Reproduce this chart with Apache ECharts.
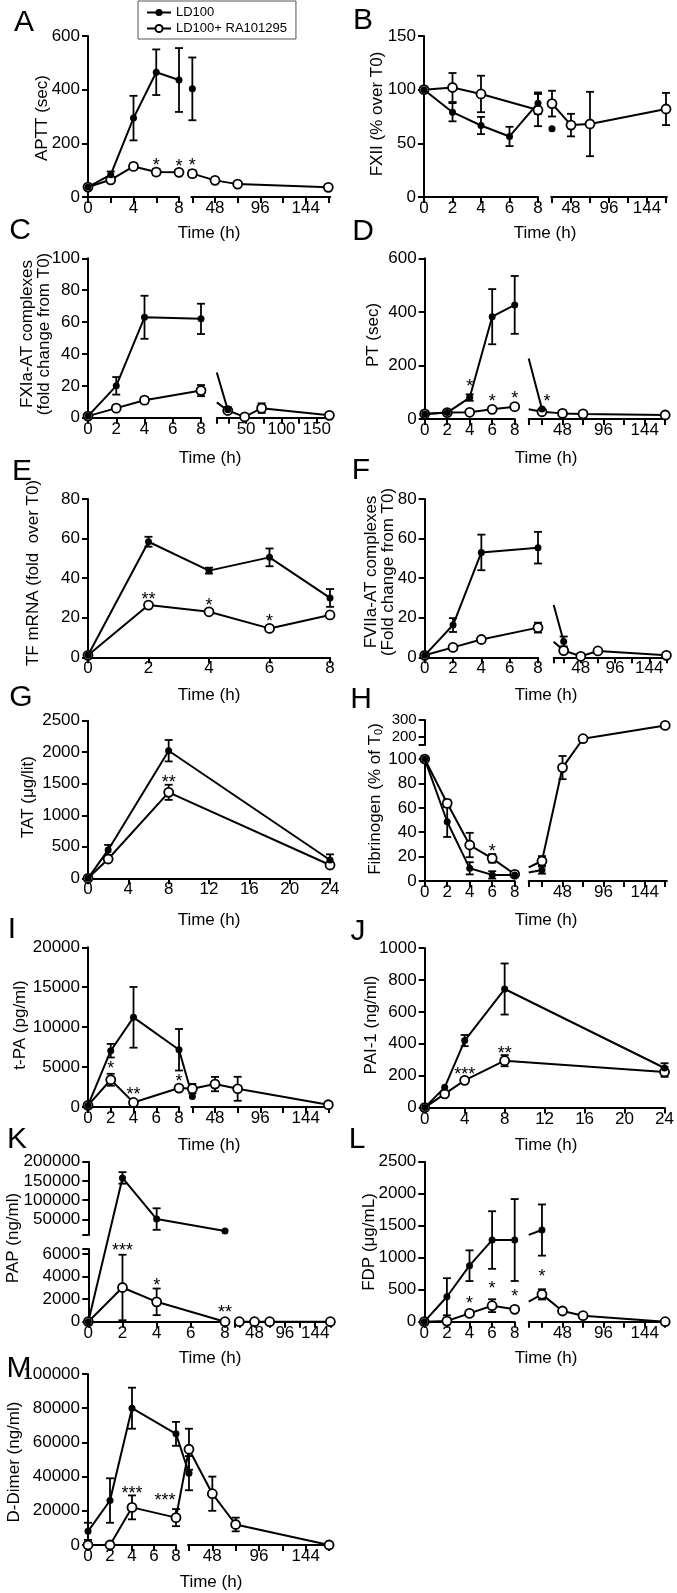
<!DOCTYPE html>
<html>
<head>
<meta charset="utf-8">
<script src="https://cdn.jsdelivr.net/npm/echarts@6/dist/echarts.min.js"></script>
<style>
  html, body { margin: 0; padding: 0; background: #fff; }
  #main { width: 677px; height: 1593px; }
</style>
</head>
<body>
<div id="main"></div>
<script>
// series names
const LD = 'LD100';
const RA = 'LD100+ RA101295';

// shared tick values
const ticks8 = [0, 2, 4, 6, 8];
const ticks24 = [0, 4, 8, 12, 16, 20, 24];
const lateTicks = [24, 48, 72, 96, 120, 144, 168];
const lateLabels = [48, 96, 144];

// A  APTT
const A_time = [0, 2, 4, 6, 8, 24, 48, 72, 168];
const A_ld = [37, 83, 294, 465, 436, 403, null, null, null];
const A_ldErr = [8, 12, 83, 85, 119, 117, 0, 0, 0];
const A_ra = [37, 64, 114, 93, 92, 87, 62, 48, 36];
const A_raErr = [0, 0, 10, 12, 0, 12, 0, 0, 0];
const A_stars = [[6, 132, '*'], [8, 126, '*'], [24, 130, '*']];
const A_yTicks = [0, 200, 400, 600];

// B  FXII
const B_time = [0, 2, 4, 6, 8, 24, 48, 72, 168];
const B_ld = [100, 79, 66.6, 56.4, 87.4, 63.5, null, null, null];
const B_ldErr = [0, 8.5, 8, 9, 10, 0, 0, 0, 0];
const B_ra = [100, 102, 96, null, 81, 87, 67, 68, 82];
const B_raErr = [0, 13.5, 17, 0, 15, 12, 10.5, 30, 15];
const B_yTicks = [0, 50, 100, 150];

// C  FXIa-AT
const C_time = [0, 2, 4, 8, 24, 48, 72, 168];
const C_ld = [1, 20, 63, 62, 5, null, null, null];
const C_ldErr = [0, 5.5, 13.5, 9.5, 1.5, 0, 0, 0];
const C_ra = [1, 6, 11, 17, 4.5, 0.5, 6, 1.5];
const C_raErr = [0, 1, 2, 3.5, 0, 0, 3, 0];
const C_yTicks = [0, 20, 40, 60, 80, 100];
const C_lateTicks = [8.5, 25, 50, 75, 100, 125, 150];
const C_lateLabels = [50, 100, 150];

// D  PT
const D_time = [0, 2, 4, 6, 8, 24, 48, 72, 168];
const D_ld = [19, 24, 80, 382, 426, 37, null, null, null];
const D_ldErr = [0, 0, 12, 103, 108, 0, 0, 0, 0];
const D_ra = [19, 24, 25, 36, 46, 27, 21, 19, 15];
const D_raErr = [0, 0, 0, 0, 0, 0, 0, 0, 0];
const D_stars = [[4, 133, '*'], [6, 77, '*'], [8, 90, '*'], [29.8, 77, '*']];
const D_yTicks = [0, 200, 400, 600];

// E  TF mRNA
const E_time = [0, 2, 4, 6, 8];
const E_ld = [1, 58.4, 43.8, 50.5, 30];
const E_ldErr = [0, 2.5, 1.5, 4.5, 4.5];
const E_ra = [1, 26.4, 23, 14.6, 21.4];
const E_raErr = [0, 0, 0, 0, 0];
const E_stars = [[2, 31, '**'], [4, 28, '*'], [6, 19.7, '*']];
const E_yTicks = [0, 20, 40, 60, 80];

// F  FVIIa-AT
const F_time = [0, 2, 4, 8, 24, 48, 72, 168];
const F_ld = [1, 16.3, 53, 55.4, 8, null, null, null];
const F_ldErr = [0, 3.5, 9, 8, 2.5, 0, 0, 0];
const F_ra = [1, 5, 9, 15, 3.4, 0.5, 3.2, 1];
const F_raErr = [0, 0, 0, 2.5, 0, 0, 1, 0];
const F_yTicks = [0, 20, 40, 60, 80];

// G  TAT
const G_time = [0, 2, 8, 24];
const G_ld = [0, 450, 2024, 290];
const G_ldErr = [0, 80, 170, 90];
const G_ra = [0, 306, 1364, 211];
const G_raErr = [0, 0, 120, 0];
const G_stars = [[8, 1575, '**']];
const G_yTicks = [0, 500, 1000, 1500, 2000, 2500];

// H  Fibrinogen
const H_time = [0, 2, 4, 6, 8, 24, 48, 72, 168];
const H_ld = [100, 48.6, 10.4, 5, 5, 9, null, null, null];
const H_ldErr = [0, 12.5, 5, 3, 0, 3, 0, 0, 0];
const H_ra = [100, 63.7, 29.5, 18.6, 5.5, 16.4, 93, 190, 268];
const H_raErr = [0, 3, 10, 3.5, 0, 4, 9.5, 15, 0];
const H_stars = [[6, 26.8, '*']];
const H_yTicksLow = [0, 20, 40, 60, 80, 100];
const H_yTicksHigh = [153, 200, 300];
const H_yLabelsHigh = [200, 300];

// I  t-PA
const I_time = [0, 2, 4, 8, 24, 48, 72, 168];
const I_ld = [200, 7050, 11230, 7170, 1320, null, null, null];
const I_ldErr = [0, 850, 3800, 2600, 0, 0, 0, 0];
const I_ra = [200, 3410, 570, 2370, 2290, 2870, 2280, 280];
const I_raErr = [0, 750, 0, 250, 600, 900, 1500, 0];
const I_stars = [[2, 5300, '*'], [4, 1950, '**'], [8, 3620, '*']];
const I_yTicks = [0, 5000, 10000, 15000, 20000];

// J  PAI-1
const J_time = [0, 2, 4, 8, 24];
const J_ld = [0, 127, 420, 743, 248];
const J_ldErr = [0, 0, 35, 160, 30];
const J_ra = [0, 86, 171, 294, 223];
const J_raErr = [0, 0, 10, 35, 30];
const J_stars = [[4, 232, '***'], [8, 359, '**']];
const J_yTicks = [0, 200, 400, 600, 800, 1000];

// K  PAP
const K_time = [0, 2, 4, 8, 24, 48, 72, 168];
const K_ld = [0, 157800, 50800, 19700, null, null, null, null];
const K_ldErr = [0, 15000, 28000, 0, 0, 0, 0, 0];
const K_ra = [0, 3030, 1760, 0, 0, 0, 0, 0];
const K_raErr = [0, 2900, 1180, 0, 0, 0, 0, 0];
const K_stars = [[2, 6620, '***'], [4, 3530, '*'], [8, 1090, '**']];
const K_yTicksLow = [0, 2000, 4000, 6000, 6440];
const K_yLabelsLow = [0, 2000, 4000, 6000];
const K_yTicksHigh = [9300, 50000, 100000, 150000, 200000];
const K_yLabelsHigh = [50000, 100000, 150000, 200000];
const K_lateTicks = [17.2, 24, 48, 72, 96, 120, 144, 168];

// L  FDP
const L_time = [0, 2, 4, 6, 8, 24, 48, 72, 168];
const L_ld = [0, 390, 875, 1276, 1276, 1432, null, null, null];
const L_ldErr = [0, 290, 240, 450, 640, 400, 0, 0, 0];
const L_ra = [0, 10, 130, 250, 193, 427, 167, 94, 0];
const L_raErr = [0, 0, 30, 100, 0, 80, 0, 0, 0];
const L_stars = [[4, 339, '*'], [6, 573, '*'], [8, 453, '*'], [24, 755, '*']];
const L_yTicks = [0, 500, 1000, 1500, 2000, 2500];

// M  D-Dimer
const M_time = [0, 2, 4, 8, 24, 48, 72, 168];
const M_ld = [8000, 26000, 80000, 65000, 42000, null, null, null];
const M_ldErr = [5000, 13000, 12000, 7000, 10000, 0, 0, 0];
const M_ra = [0, 0, 22000, 16000, 56000, 30000, 12000, 0];
const M_raErr = [0, 0, 7000, 5000, 12000, 10000, 4000, 0];
const M_stars = [[4, 32000, '***'], [7, 28000, '***']];
const M_yTicks = [0, 20000, 40000, 60000, 80000, 100000];

// ---- layout ----
const FONT = '"Liberation Sans", Arial, sans-serif';
const lateD = [8.5, 24, 48, 72, 96, 120, 144, 168];

function seg(min, max, p0, p1, ticks, labels, fontSize) {
  return { min: min, max: max, p0: p0, p1: p1, ticks: ticks, labels: labels || ticks, fs: fontSize || 17 };
}

const panels = [
  { letter: 'A', letterPos: [24, 23], yName: 'APTT (sec)', yNamePos: [42, 118], timePos: [209, 233],
    xSegs: [seg(0, 8, 88, 179, ticks8, [0, 4, 8]), seg(23, 170, 191.4, 330.2, lateTicks, lateLabels)],
    ySegs: [seg(0, 600, 197, 36, A_yTicks)], bridge: 'none',
    time: A_time, ld: A_ld, ldErr: A_ldErr, ra: A_ra, raErr: A_raErr, stars: A_stars },
  { letter: 'B', letterPos: [363, 21], yName: 'FXII (% over T0)', yNamePos: [377, 114], timePos: [545, 233],
    xSegs: [seg(0, 8, 424, 538, ticks8), seg(23, 169, 551.2, 666.8, lateTicks, lateLabels)],
    ySegs: [seg(0, 150, 197, 36, B_yTicks)], bridge: 'none',
    time: B_time, ld: B_ld, ldErr: B_ldErr, ra: B_ra, raErr: B_raErr, stars: [] },
  { letter: 'C', letterPos: [20, 231], yName: 'FXIa-AT complexes\n(fold change from T0)', yNamePos: [36, 334], timePos: [210, 458],
    xSegs: [seg(0, 8, 88, 201, ticks8), seg(8.5, 171, 216.8, 331.5, C_lateTicks, C_lateLabels)],
    ySegs: [seg(0, 100, 417.7, 258.3, C_yTicks)], bridge: 'right',
    time: C_time, ld: C_ld, ldErr: C_ldErr, ra: C_ra, raErr: C_raErr, stars: [] },
  { letter: 'D', letterPos: [363, 232], yName: 'PT (sec)', yNamePos: [373, 335], timePos: [546, 458],
    xSegs: [seg(0, 8, 424.7, 514.7, ticks8), seg(8.5, 170, 528.7, 666.9, lateD, lateLabels)],
    ySegs: [seg(0, 600, 419, 258.3, D_yTicks)], bridge: 'right',
    time: D_time, ld: D_ld, ldErr: D_ldErr, ra: D_ra, raErr: D_raErr, stars: D_stars },
  { letter: 'E', letterPos: [22, 472], yName: 'TF mRNA (fold  over T0)', yNamePos: [33, 573], timePos: [209, 695],
    xSegs: [seg(0, 8, 88, 330, ticks8)],
    ySegs: [seg(0, 80, 657.3, 499, E_yTicks)], bridge: 'none',
    time: E_time, ld: E_ld, ldErr: E_ldErr, ra: E_ra, raErr: E_raErr, stars: E_stars },
  { letter: 'F', letterPos: [361, 471], yName: 'FVIIa-AT complexes\n(Fold change from T0)', yNamePos: [380, 572], timePos: [546, 695],
    xSegs: [seg(0, 8, 424.7, 538, ticks8), seg(10, 170, 553.7, 667.8, [10].concat(lateTicks), lateLabels)],
    ySegs: [seg(0, 80, 657.3, 499, F_yTicks)], bridge: 'right',
    time: F_time, ld: F_ld, ldErr: F_ldErr, ra: F_ra, raErr: F_raErr, stars: [] },
  { letter: 'G', letterPos: [21, 698], yName: 'TAT (\u03bcg/lit)', yNamePos: [28, 797], timePos: [209, 920],
    xSegs: [seg(0, 24, 88, 330, ticks24)],
    ySegs: [seg(0, 2500, 878.3, 720.7, G_yTicks)], bridge: 'none',
    time: G_time, ld: G_ld, ldErr: G_ldErr, ra: G_ra, raErr: G_raErr, stars: G_stars },
  { letter: 'H', letterPos: [361, 700], yName: 'Fibrinogen (% of T{sub|0})', yNamePos: [375, 799], timePos: [546, 920],
    xSegs: [seg(0, 8, 424.7, 514.7, ticks8), seg(8.5, 170, 528.7, 666.9, lateD, lateLabels)],
    ySegs: [seg(0, 102, 881, 756.6, H_yTicksLow), seg(153, 300, 745, 720, H_yTicksHigh, H_yLabelsHigh, 15)], bridge: 'right',
    time: H_time, ld: H_ld, ldErr: H_ldErr, ra: H_ra, raErr: H_raErr, stars: H_stars },
  { letter: 'I', letterPos: [12, 930], yName: 't-PA (pg/ml)', yNamePos: [20, 1025], timePos: [209, 1145],
    xSegs: [seg(0, 8, 88, 179, ticks8), seg(23, 170, 191.4, 330.2, lateTicks, lateLabels)],
    ySegs: [seg(0, 20000, 1107, 947.3, I_yTicks)], bridge: 'full',
    time: I_time, ld: I_ld, ldErr: I_ldErr, ra: I_ra, raErr: I_raErr, stars: I_stars },
  { letter: 'J', letterPos: [358, 932], yName: 'PAI-1 (ng/ml)', yNamePos: [371, 1025], timePos: [546, 1145],
    xSegs: [seg(0, 24, 424.7, 667, ticks24)],
    ySegs: [seg(0, 1000, 1107.6, 948, J_yTicks)], bridge: 'none',
    time: J_time, ld: J_ld, ldErr: J_ldErr, ra: J_ra, raErr: J_raErr, stars: J_stars },
  { letter: 'K', letterPos: [17, 1140], yName: 'PAP (ng/ml)', yNamePos: [13, 1238], timePos: [210, 1358],
    xSegs: [seg(0, 8, 88.3, 225, ticks8), seg(17.2, 169, 235, 331, K_lateTicks, lateLabels)],
    ySegs: [seg(0, 6440, 1321.7, 1249, K_yTicksLow, K_yLabelsLow), seg(9300, 200000, 1235, 1161.7, K_yTicksHigh, K_yLabelsHigh)], bridge: 'none',
    time: K_time, ld: K_ld, ldErr: K_ldErr, ra: K_ra, raErr: K_raErr, stars: K_stars },
  { letter: 'L', letterPos: [357, 1140], yName: 'FDP (\u03bcg/mL)', yNamePos: [369, 1242], timePos: [546, 1358],
    xSegs: [seg(0, 8, 424.3, 514.7, ticks8), seg(8.5, 170, 528.7, 666.9, lateD, lateLabels)],
    ySegs: [seg(0, 2500, 1321.7, 1161.7, L_yTicks)], bridge: 'right',
    time: L_time, ld: L_ld, ldErr: L_ldErr, ra: L_ra, raErr: L_raErr, stars: L_stars },
  { letter: 'M', letterPos: [19, 1369], yName: 'D-Dimer (ng/ml)', yNamePos: [14, 1462], timePos: [211, 1582],
    xSegs: [seg(0, 8, 88, 176, ticks8), seg(23, 170, 188, 331, lateTicks, lateLabels)],
    ySegs: [seg(0, 100000, 1545, 1374, M_yTicks)], bridge: 'full',
    time: M_time, ld: M_ld, ldErr: M_ldErr, ra: M_ra, raErr: M_raErr, stars: M_stars }
];

// ---- build ----
const option = {
  animation: false,
  backgroundColor: '#fff',
  textStyle: { fontFamily: FONT },
  legend: {
    data: [LD, RA], left: 138, top: 1, orient: 'vertical', selectedMode: false,
    itemWidth: 24, itemHeight: 9, itemGap: 3, padding: [5, 9, 4, 8],
    borderColor: '#555', borderWidth: 1,
    textStyle: { fontSize: 13, color: '#000', fontFamily: FONT }
  },
  grid: [], xAxis: [], yAxis: [], series: []
};
const bridges = [];

function axis(gi, s, show, isX) {
  return {
    type: 'value', gridIndex: gi, min: s.min, max: s.max, show: show,
    position: isX ? 'bottom' : 'left',
    axisLine: { show: true, onZero: false, lineStyle: { color: '#000', width: 2 } },
    axisTick: { show: true, inside: false, length: 6, customValues: s.ticks, lineStyle: { color: '#000', width: 2 } },
    axisLabel: { show: true, customValues: s.labels, fontSize: s.fs, fontFamily: FONT, color: '#000',
      margin: isX ? 3 : 8, showMinLabel: true, showMaxLabel: true, hideOverlap: false,
      formatter: function (v) { return String(v); } },
    splitLine: { show: false }
  };
}

function addGrid(xs, ys, showX, showY) {
  const gi = option.grid.length;
  option.grid.push({ left: xs.p0, top: ys.p1, width: xs.p1 - xs.p0, height: ys.p0 - ys.p1 });
  option.xAxis.push(axis(gi, xs, showX, true));
  option.yAxis.push(axis(gi, ys, showY, false));
  return gi;
}

function segIndex(segs, v) {
  for (let i = 0; i < segs.length; i++) if (v >= segs[i].min && v <= segs[i].max) return i;
  let best = 0, bd = Infinity;
  segs.forEach(function (s, i) {
    const d = v < s.min ? s.min - v : v - s.max;
    if (d < bd) { bd = d; best = i; }
  });
  return best;
}

function errSeries(gi, data) {
  return {
    type: 'custom', xAxisIndex: gi, yAxisIndex: gi, data: data, clip: false, silent: true, z: 2,
    encode: { x: 0, y: [1, 2] },
    renderItem: function (params, api) {
      const t = api.value(0);
      const a = api.coord([t, api.value(2)]);
      const b = api.coord([t, api.value(1)]);
      const w = 4;
      const ln = function (x1, y1, x2, y2) {
        return { type: 'line', shape: { x1: x1, y1: y1, x2: x2, y2: y2 }, style: { stroke: '#000', lineWidth: 1.8 } };
      };
      return { type: 'group', children: [
        ln(a[0], a[1], b[0], b[1]), ln(a[0] - w, a[1], a[0] + w, a[1]), ln(b[0] - w, b[1], b[0] + w, b[1])
      ] };
    }
  };
}

function lineSeries(name, filled, gi, data) {
  return {
    type: 'line', name: name, xAxisIndex: gi, yAxisIndex: gi, data: data, clip: false, silent: true,
    symbol: 'circle', symbolSize: filled ? 7 : 9, showSymbol: true, z: filled ? 4 : 3,
    lineStyle: { color: '#000', width: 2 },
    itemStyle: filled ? { color: '#000' } : { color: '#fff', borderColor: '#000', borderWidth: 1.8 },
    emphasis: { disabled: true }
  };
}

function starSeries(gi, list) {
  return {
    type: 'custom', xAxisIndex: gi, yAxisIndex: gi, clip: false, silent: true, z: 5,
    data: list.map(function (s) { return [s[0], s[1]]; }),
    encode: { x: 0, y: 1 },
    renderItem: function (params, api) {
      const p = api.coord([api.value(0), api.value(1)]);
      return { type: 'text', x: p[0], y: p[1] + 4, style: {
        text: list[params.dataIndex][2], fill: '#000', font: '18px ' + FONT,
        align: 'center', verticalAlign: 'middle', textAlign: 'center', textVerticalAlign: 'middle' } };
    }
  };
}

panels.forEach(function (p) {
  const gIdx = [];
  p.ySegs.forEach(function (ys, yi) {
    gIdx[yi] = [];
    p.xSegs.forEach(function (xs, xi) { gIdx[yi][xi] = addGrid(xs, ys, yi === 0, xi === 0); });
  });
  [[RA, p.ra, p.raErr, false], [LD, p.ld, p.ldErr, true]].forEach(function (s) {
    const name = s[0], vals = s[1], errs = s[2], filled = s[3];
    const pts = [], buckets = {}, errB = {};
    p.time.forEach(function (t, i) {
      const v = vals[i];
      if (v == null) return;
      const xi = segIndex(p.xSegs, t), yi = segIndex(p.ySegs, v);
      const g = gIdx[yi][xi];
      pts.push({ t: t, v: v, g: g, xi: xi, yi: yi });
      (buckets[g] = buckets[g] || []).push([t, v]);
      if (errs[i]) (errB[g] = errB[g] || []).push([t, v - errs[i], v + errs[i]]);
    });
    Object.keys(errB).forEach(function (g) { option.series.push(errSeries(+g, errB[g])); });
    Object.keys(buckets).forEach(function (g) { option.series.push(lineSeries(name, filled, +g, buckets[g])); });
    for (let k = 1; k < pts.length; k++) {
      const a = pts[k - 1], b = pts[k];
      if (a.g === b.g) continue;
      let mode = 'full';
      if (a.xi !== b.xi) mode = p.bridge;
      if (mode === 'none') continue;
      bridges.push({ g1: a.g, t1: a.t, v1: a.v, g2: b.g, t2: b.t, v2: b.v,
        cut: mode === 'right' ? p.xSegs[b.xi].p0 : null });
    }
  });
  const starB = {};
  p.stars.forEach(function (st) {
    const g = gIdx[segIndex(p.ySegs, st[1])][segIndex(p.xSegs, st[0])];
    (starB[g] = starB[g] || []).push(st);
  });
  Object.keys(starB).forEach(function (g) { option.series.push(starSeries(+g, starB[g])); });
});

const chart = echarts.init(document.getElementById('main'), null, { renderer: 'canvas' });
chart.setOption(option);

// lines that cross an axis break, and the free text
const gfx = [];
bridges.forEach(function (b) {
  let p = chart.convertToPixel({ gridIndex: b.g1 }, [b.t1, b.v1]);
  const q = chart.convertToPixel({ gridIndex: b.g2 }, [b.t2, b.v2]);
  if (b.cut != null) {
    const k = (b.cut - p[0]) / (q[0] - p[0]);
    p = [b.cut, p[1] + k * (q[1] - p[1])];
  }
  gfx.push({ type: 'line', z: 1, silent: true, shape: { x1: p[0], y1: p[1], x2: q[0], y2: q[1] },
    style: { stroke: '#000', lineWidth: 2 } });
});

function txt(x, y, text, size, rot, extra) {
  const style = { text: text, font: size + 'px ' + FONT, fill: '#000', align: 'center', verticalAlign: 'middle',
    textAlign: 'center', textVerticalAlign: 'middle' };
  Object.assign(style, extra || {});
  return { type: 'text', x: x, y: y, rotation: rot || 0, z: 10, silent: true, style: style };
}

panels.forEach(function (p) {
  gfx.push(txt(p.letterPos[0], p.letterPos[1], p.letter, 30));
  gfx.push(txt(p.timePos[0], p.timePos[1], 'Time (h)', 17));
  gfx.push(txt(p.yNamePos[0], p.yNamePos[1], p.yName, 17, Math.PI / 2,
    { lineHeight: 17, rich: { sub: { fontSize: 11, padding: [8, 0, 0, 0], fontFamily: FONT } } }));
});

chart.setOption({ graphic: { elements: gfx } });
</script>
</body>
</html>
